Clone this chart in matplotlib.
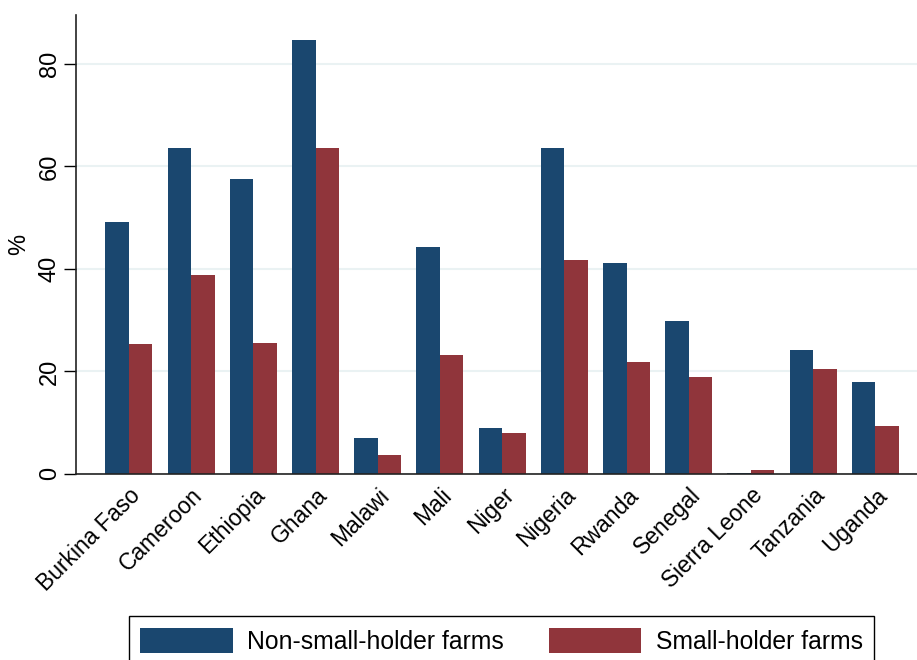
import numpy as np
import matplotlib
matplotlib.use('Agg')
import matplotlib.pyplot as plt

plt.rcParams['font.family'] = ['Liberation Sans', 'DejaVu Sans']

countries = ['Burkina Faso', 'Cameroon', 'Ethiopia', 'Ghana', 'Malawi', 'Mali', 'Niger',
             'Nigeria', 'Rwanda', 'Senegal', 'Sierra Leone', 'Tanzania', 'Uganda']
non_small = [49.1, 63.5, 57.5, 84.6, 7.0, 44.2, 9.0, 63.5, 41.1, 29.8, 0.2, 24.2, 17.9]
small = [25.3, 38.8, 25.5, 63.5, 3.7, 23.2, 8.0, 41.7, 21.8, 18.9, 0.8, 20.5, 9.4]
yticks = [0, 20, 40, 60, 80]

blue = '#1a476f'
red = '#90353b'

fig = plt.figure(figsize=(9.17, 6.6), dpi=100)
ax = fig.add_axes([0.083, 0.282, 0.917, 0.695])

x = np.arange(len(countries))
w = 0.378
ax.bar(x - w / 2, non_small, width=w, color=blue, label='Non-small-holder farms', zorder=2)
ax.bar(x + w / 2, small, width=w, color=red, label='Small-holder farms', zorder=2)

ax.set_xlim(-0.85, 12.67)
ax.set_ylim(0, 89.5)
ax.set_yticks(yticks)
ax.set_yticklabels([str(t) for t in yticks], rotation=90, va='center', fontsize=17)
ax.set_xticks(x)
ax.set_xticklabels(countries, rotation=45, ha='right', rotation_mode='anchor', fontsize=16.5)
ax.tick_params(axis='x', length=0, pad=7)
ax.tick_params(axis='y', length=9, width=1, pad=2)
ax.set_ylabel('%', fontsize=17, labelpad=6)

ax.grid(axis='y', color='#eaf2f3', linewidth=1.5, zorder=0)
ax.spines['top'].set_visible(False)
ax.spines['right'].set_visible(False)
for s in ['left', 'bottom']:
    ax.spines[s].set_linewidth(1.2)
    ax.spines[s].set_color('#222222')

# legend box sits along the bottom edge, partly cut off like the original
leg = fig.legend(loc='upper center', bbox_to_anchor=(0.547, 0.066), ncol=2, fontsize=17.8,
                 frameon=True, fancybox=False, edgecolor='black', framealpha=1,
                 handlelength=3.75, handleheight=1.2, handletextpad=0.6,
                 columnspacing=1.8, borderpad=0.45, borderaxespad=0)
leg.get_frame().set_linewidth(1.0)

fig.savefig('out.png', dpi=100)
